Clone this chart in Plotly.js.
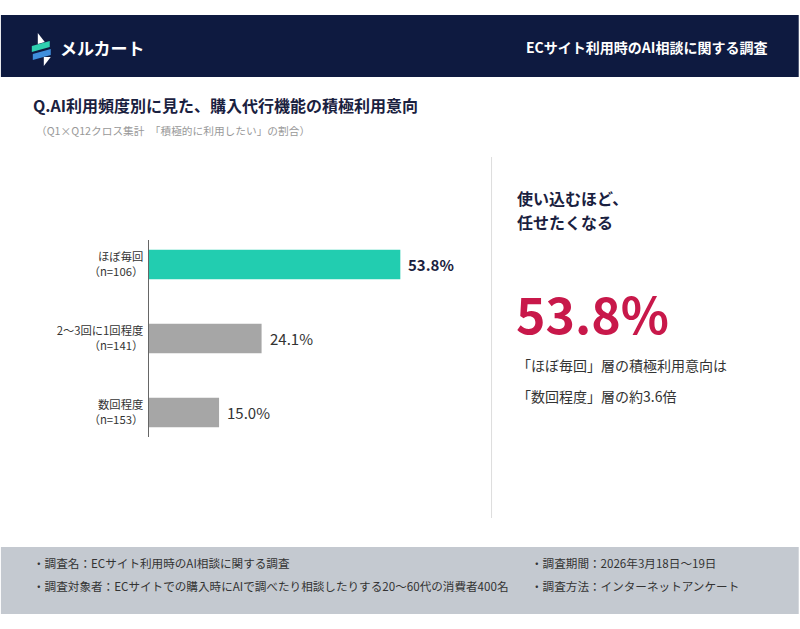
<!DOCTYPE html>
<html><head><meta charset="utf-8">
<script src="https://cdn.plot.ly/plotly-3.0.1.min.js"></script>
<style>html,body{margin:0;padding:0;background:#fff}#chart{width:800px;height:629px}</style>
</head><body><div id="chart"></div>
<script>
const categories = ["ほぼ毎回", "2〜3回に1回程度", "数回程度"];
const sampleSizes = ["n=106", "n=141", "n=153"];
const values = [53.8, 24.1, 15.0];
const barColors = ["#22cdb0", "#a6a6a6", "#a6a6a6"];
const headline = "53.8%";

const W = 800, H = 629;
const L = 148.5, R = 476.4, T = 240, B = 437;
const px = x => (x - L) / (R - L);
const py = y => (B - y) / (B - T);
const FONT = '"Noto Sans CJK JP", "Noto Sans", sans-serif';

const tickText = categories.map((c, i) => c + "<br>（" + sampleSizes[i] + "）");

const trace = {
  type: "bar", orientation: "h",
  x: values, y: categories,
  marker: {color: barColors, line: {width: 0}},
  width: 0.4, hoverinfo: "none"
};

function rect(x0, y0, x1, y1, color, line) {
  return {type: "rect", xref: "paper", yref: "paper", x0: px(x0), x1: px(x1), y0: py(y0), y1: py(y1),
    fillcolor: color, line: line || {width: 0}, layer: "below"};
}
function pathShape(pts, color) {
  const d = pts.map((p, i) => (i ? "L" : "M") + px(p[0]).toFixed(5) + "," + py(p[1]).toFixed(5)).join(" ") + " Z";
  return {type: "path", xref: "paper", yref: "paper", path: d, fillcolor: color, line: {width: 0}, layer: "above"};
}
function txt(x, y, text, size, color, opts) {
  return Object.assign({xref: "paper", yref: "paper", x: px(x), y: py(y), text: text, showarrow: false,
    xanchor: "left", yanchor: "middle", font: {family: FONT, size: size, color: color}}, opts || {});
}

const shapes = [
  rect(0, 15, 800, 77, "#0e1a40"),
  rect(0, 547, 800, 614, "#c4c9d0"),
  {type: "line", xref: "paper", yref: "paper", x0: px(492), x1: px(492), y0: py(157), y1: py(518), line: {color: "#dddddd", width: 1}},
  // logo
  pathShape([[37, 33], [44, 42], [37, 44]], "#ffffff"),
  pathShape([[31, 46], [49, 41], [49, 47], [31, 52]], "#2fd0b0"),
  pathShape([[32, 54], [50, 49], [50, 55], [32, 60]], "#3f8fdc"),
  pathShape([[43, 57], [50, 57], [43, 66]], "#ffffff")
];

const annotations = [
  txt(57, 47, "<b>メルカート</b>", 17, "#ffffff"),
  txt(770, 47, "<b>ECサイト利用時のAI相談に関する調査</b>", 14, "#ffffff", {xanchor: "right"}),
  txt(30, 105, "<b>Q.AI利用頻度別に見た、購入代行機能の積極利用意向</b>", 16, "#1a2140"),
  txt(33, 130, "（Q1×Q12クロス集計　「積極的に利用したい」の割合）", 10.7, "#999999"),
  txt(516, 198, "<b>使い込むほど、</b>", 16, "#1a2140"),
  txt(516, 222, "<b>任せたくなる</b>", 16, "#1a2140"),
  {xref: "paper", yref: "paper", x: px(515), y: py(312), text: headline, showarrow: false,
    xanchor: "left", yanchor: "middle", font: {family: FONT, size: 50, color: "#c8184a", weight: 700}},
  txt(516, 365, "「ほぼ毎回」層の積極利用意向は", 14, "#333333"),
  txt(516, 396, "「数回程度」層の約3.6倍", 14, "#333333"),
  txt(30, 563, "・調査名：ECサイト利用時のAI相談に関する調査", 11.6, "#333333"),
  txt(30, 586, "・調査対象者：ECサイトでの購入時にAIで調べたり相談したりする20〜60代の消費者400名", 11.6, "#333333"),
  txt(530, 563, "・調査期間：2026年3月18日〜19日", 11.6, "#333333"),
  txt(530, 586, "・調査方法：インターネットアンケート", 11.6, "#333333")
];

values.forEach((v, i) => {
  annotations.push({
    xref: "x", yref: "y", x: v, y: categories[i], showarrow: false,
    xanchor: "left", yanchor: "middle", xshift: 6,
    text: i === 0 ? "<b>" + v.toFixed(1) + "%</b>" : v.toFixed(1) + "%",
    font: {family: FONT, size: 15, color: i === 0 ? "#1a2140" : "#333333"}
  });
});

const layout = {
  width: W, height: H,
  margin: {l: L, r: W - R, t: T, b: H - B, pad: 0},
  paper_bgcolor: "#ffffff", plot_bgcolor: "rgba(0,0,0,0)",
  showlegend: false,
  xaxis: {range: [0, 70], visible: false, fixedrange: true},
  yaxis: {type: "category", range: [2.33, -0.33], tickvals: categories, ticktext: tickText,
    showgrid: false, zeroline: false, showline: true, linecolor: "#666666", linewidth: 1.5,
    ticks: "", ticklabelstandoff: 2, tickfont: {family: FONT, size: 11.3, color: "#333333"}, fixedrange: true},
  shapes: shapes, annotations: annotations
};

Plotly.newPlot("chart", [trace], layout, {displayModeBar: false, staticPlot: true});
</script></body></html>
